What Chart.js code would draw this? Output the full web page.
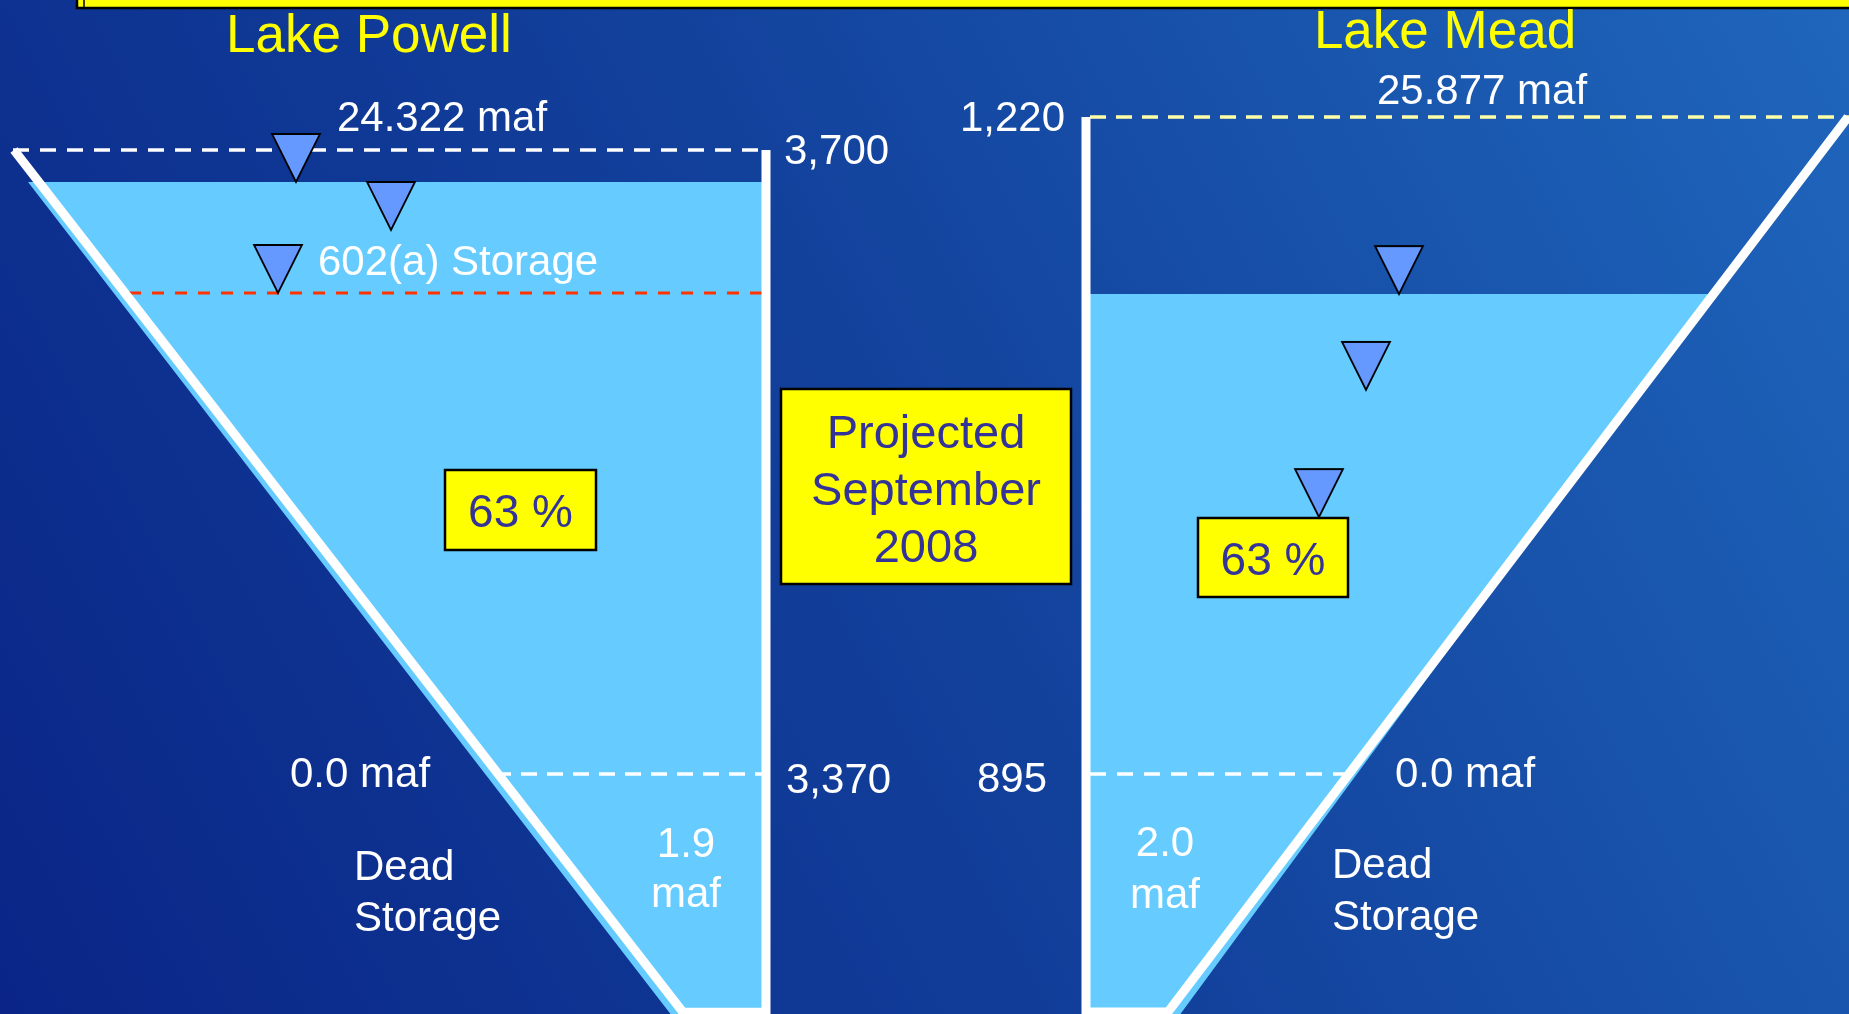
<!DOCTYPE html>
<html lang="en">
<head>
<meta charset="UTF-8">
<title>Lake Powell / Lake Mead - Projected September 2008</title>
<script src="https://cdn.jsdelivr.net/npm/chart.js"></script>
<style>
    html, body { margin: 0; padding: 0; background: #0a2587; overflow: hidden; }
    #storage { display: block; }
</style>
</head>
<body>
<canvas id="storage" width="1849" height="1014"></canvas>
<script>
// ---- reservoir data (elevations in ft, storage in maf) ----
const lakes = ['Lake Powell', 'Lake Mead'];
const liveCapacityMaf = [24.322, 25.877];
const deadStorageMaf = [1.9, 2.0];
const percentFull = [63, 63];
const fullPoolFt = [3700, 1220];
const deadPoolFt = [3370, 895];
const projectedFt = [3683.1, 1132.4];
const powell602aFt = 3624.4;

// level markers: position across the section, elevation
const powellMarkX = [296, 391, 278];
const powellMarkFt = [3683.1, 3657.7, 3624.4];
const meadMarkX = [1399, 1366, 1319];
const meadMarkFt = [1132.4, 1085.0, 1022.1];

// reservoir cross sections
const powellWallX = [14, 683, 766, 766];
const powellWallFt = [3700, 3244, 3244, 3700];
const meadWallX = [1086, 1086, 1168, 1848];
const meadWallFt = [1220, 777.3, 777.3, 1220];
const powellWaterX = [28, 766, 766, 675];
const powellWaterFt = [projectedFt[0], projectedFt[0], 3240, 3240];
const meadWaterX = [1086, 1710, 1180, 1086];
const meadWaterFt = [projectedFt[1], projectedFt[1], 776, 776];

const FONT = "'Liberation Sans', Arial, sans-serif";
const WATER = '#66ccff';
const YELLOW = '#ffff00';
const NAVY = '#333399';

function path(xs, vs, axis, style) {
    return Object.assign({
        data: xs.map((x, i) => ({ x: x, y: vs[i] })),
        yAxisID: axis,
        showLine: true,
        pointRadius: 0,
        borderWidth: 0,
        borderColor: 'rgba(0,0,0,0)',
        fill: false
    }, style);
}

function level(x0, x1, v, axis, color, width, dash) {
    return path([x0, x1], [v, v], axis, { borderColor: color, borderWidth: width, borderDash: dash });
}

function box(x0, x1, v0, v1, axis) {
    return path([x0, x1, x1, x0, x0], [v0, v0, v1, v1, v0], axis, {
        fill: 'shape', backgroundColor: YELLOW, borderColor: '#000', borderWidth: 2.5,
        borderJoinStyle: 'miter', borderCapStyle: 'square'
    });
}

// inverted triangle, apex at the centre of the image
const marker = document.createElement('canvas');
marker.width = 52;
marker.height = 100;
(function () {
    const c = marker.getContext('2d');
    c.beginPath();
    c.moveTo(2, 2);
    c.lineTo(50, 2);
    c.lineTo(26, 50);
    c.closePath();
    c.fillStyle = '#6699ff';
    c.fill();
    c.lineWidth = 1.8;
    c.strokeStyle = '#000';
    c.stroke();
})();

function markers(xs, vs, axis) {
    return {
        data: xs.map((x, i) => ({ x: x, y: vs[i] })),
        yAxisID: axis,
        showLine: false,
        pointStyle: marker,
        pointRadius: 24,
        pointHoverRadius: 24
    };
}

// painted back to front
const layers = [
    path(powellWaterX, powellWaterFt, 'yP', { fill: 'shape', backgroundColor: WATER }),
    path(meadWaterX, meadWaterFt, 'yM', { fill: 'shape', backgroundColor: WATER }),
    level(13, 766, fullPoolFt[0], 'yP', '#ffffff', 3.5, [16, 11]),
    level(495, 766, deadPoolFt[0], 'yP', '#ffffff', 3.5, [16, 10]),
    level(129, 762, powell602aFt, 'yP', '#ff3300', 3, [12, 11]),
    level(1090, 1849, fullPoolFt[1], 'yM', '#ffffa8', 3.5, [16, 10]),
    level(1090, 1350, deadPoolFt[1], 'yM', '#ffffff', 3.5, [16, 11]),
    path(powellWallX, powellWallFt, 'yP', { borderColor: '#ffffff', borderWidth: 9, borderJoinStyle: 'miter' }),
    path(meadWallX, meadWallFt, 'yM', { borderColor: '#ffffff', borderWidth: 9, borderJoinStyle: 'miter' }),
    box(445, 596, 3530.8, 3488.5, 'yP'),
    box(1198, 1348, 1021.6, 982.6, 'yM'),
    box(781, 1071, 389, 584, 'y'),
    box(77, 1880, -30, 8, 'y'),
    path([84, 84], [-5, 8], 'y', { borderColor: '#000', borderWidth: 1.5 }),
    markers(powellMarkX, powellMarkFt, 'yP'),
    markers(meadMarkX, meadMarkFt, 'yM')
];
layers.forEach((d, i) => { d.order = layers.length - i; });

const ft = v => v.toLocaleString('en-US');
const pct = v => v + ' %';

// text: [label, x, axis, value, align, style]
const notes = [
    [lakes[0], 369, 'y', 52, 'center', 'title'],
    [lakes[1], 1445, 'y', 48, 'center', 'title'],
    ['Projected', 926, 'y', 448, 'center', 'box'],
    ['September', 926, 'y', 505, 'center', 'box'],
    ['2008', 926, 'y', 562, 'center', 'box'],

    [liveCapacityMaf[0].toFixed(3) + ' maf', 442, 'yP', 3710.0, 'center', 'tag'],
    [ft(fullPoolFt[0]), 784, 'yP', 3692.6, 'left', 'tag'],
    ['602(a) Storage', 318, 'yP', 3633.9, 'left', 'tag'],
    [pct(percentFull[0]), 520.5, 'yP', 3500.6, 'center', 'pct'],
    [(0).toFixed(1) + ' maf', 290, 'yP', 3363.1, 'left', 'tag'],
    [ft(deadPoolFt[0]), 786, 'yP', 3360.0, 'left', 'tag'],
    ['Dead', 354, 'yP', 3313.9, 'left', 'tag'],
    ['Storage', 354, 'yP', 3287.0, 'left', 'tag'],
    [deadStorageMaf[0].toFixed(1), 686, 'yP', 3326.1, 'center', 'tag'],
    ['maf', 686, 'yP', 3299.7, 'center', 'tag'],

    [liveCapacityMaf[1].toFixed(3) + ' maf', 1482, 'yM', 1226.4, 'center', 'tag'],
    [ft(fullPoolFt[1]), 1065, 'yM', 1213.1, 'right', 'tag'],
    [pct(percentFull[1]), 1273, 'yM', 993.4, 'center', 'pct'],
    [ft(deadPoolFt[1]), 1047, 'yM', 886.1, 'right', 'tag'],
    [(0).toFixed(1) + ' maf', 1395, 'yM', 888.6, 'left', 'tag'],
    [deadStorageMaf[1].toFixed(1), 1165, 'yM', 854.4, 'center', 'tag'],
    ['maf', 1165, 'yM', 828.7, 'center', 'tag'],
    ['Dead', 1332, 'yM', 843.6, 'left', 'tag'],
    ['Storage', 1332, 'yM', 817.8, 'left', 'tag']
];

const textStyles = {
    title: { size: 53, color: YELLOW },
    tag: { size: 42, color: '#ffffff' },
    pct: { size: 46, color: NAVY },
    box: { size: 47, color: NAVY }
};

const backdrop = {
    id: 'backdrop',
    beforeDraw(chart) {
        const { ctx, width, height } = chart;
        const g = ctx.createLinearGradient(0, height, width * 1.007, height * 0.025);
        g.addColorStop(0, '#0a2587');
        g.addColorStop(0.5, '#12419c');
        g.addColorStop(1, '#1f66bc');
        ctx.save();
        ctx.fillStyle = g;
        ctx.fillRect(0, 0, width, height);
        ctx.restore();
    }
};

const captions = {
    id: 'captions',
    afterDatasetsDraw(chart) {
        const ctx = chart.ctx;
        const xs = chart.scales.x;
        ctx.save();
        ctx.textBaseline = 'alphabetic';
        notes.forEach(([text, x, axis, v, align, kind]) => {
            const st = textStyles[kind];
            ctx.font = st.size + 'px ' + FONT;
            ctx.fillStyle = st.color;
            ctx.textAlign = align;
            ctx.fillText(text, xs.getPixelForValue(x), chart.scales[axis].getPixelForValue(v));
        });
        ctx.restore();
    }
};

new Chart(document.getElementById('storage'), {
    type: 'scatter',
    data: { datasets: layers },
    options: {
        responsive: false,
        animation: false,
        events: [],
        layout: { padding: 0, autoPadding: false },
        plugins: {
            legend: { display: false },
            tooltip: { enabled: false }
        },
        scales: {
            x: { type: 'linear', min: 0, max: 1849, display: false },
            y: { type: 'linear', min: 0, max: 1014, reverse: true, display: false },
            yP: { type: 'linear', axis: 'y', min: 3243.08, max: 3779.33, display: false },
            yM: { type: 'linear', axis: 'y', min: 776.28, max: 1277.88, display: false }
        }
    },
    plugins: [backdrop, captions]
});
</script>
</body>
</html>
